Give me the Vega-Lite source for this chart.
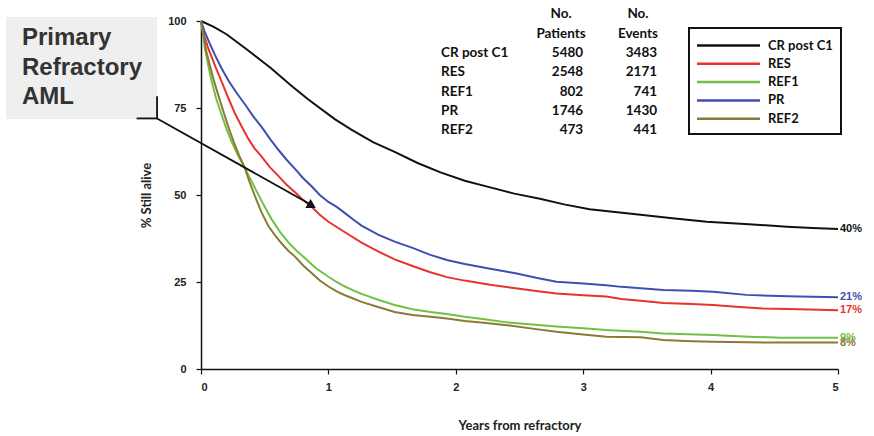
{
"$schema": "https://vega.github.io/schema/vega-lite/v6.json",
"width": 637, "height": 348,
"autosize": {"type": "none"},
"padding": {"left": 201, "top": 21, "right": 36, "bottom": 67},
"background": "white",
"config": {
 "view": {"stroke": null},
 "font": "Liberation Sans",
 "axis": {"grid": false, "domainColor": "#111", "domainWidth": 1.5, "tickColor": "#111", "tickWidth": 1.2, "tickSize": 5,
  "labelFont": "'Liberation Sans Narrow', 'Liberation Sans', sans-serif", "labelFontWeight": "bold", "labelFontSize": 11, "labelColor": "#222",
  "titleFont": "Lato", "titleFontWeight": "bold", "titleFontSize": 13, "titleColor": "#222"},
 "legend": {"strokeWidth": 2}
},
"datasets": {
 "curves": [
  {"group":"CR post C1","years":0,"pct":100},{"group":"CR post C1","years":0.1,"pct":98.3},{"group":"CR post C1","years":0.2,"pct":96.2},{"group":"CR post C1","years":0.35,"pct":92.1},{"group":"CR post C1","years":0.55,"pct":86.4},{"group":"CR post C1","years":0.7,"pct":81.7},{"group":"CR post C1","years":0.84,"pct":77.5},{"group":"CR post C1","years":1.05,"pct":71.8},{"group":"CR post C1","years":1.18,"pct":68.8},{"group":"CR post C1","years":1.35,"pct":65.2},{"group":"CR post C1","years":1.52,"pct":62.4},{"group":"CR post C1","years":1.7,"pct":59.2},{"group":"CR post C1","years":1.88,"pct":56.5},{"group":"CR post C1","years":2.07,"pct":54.1},{"group":"CR post C1","years":2.27,"pct":52.2},{"group":"CR post C1","years":2.46,"pct":50.4},{"group":"CR post C1","years":2.66,"pct":48.9},{"group":"CR post C1","years":2.85,"pct":47.3},{"group":"CR post C1","years":3.05,"pct":45.9},{"group":"CR post C1","years":3.25,"pct":45.1},{"group":"CR post C1","years":3.45,"pct":44.3},{"group":"CR post C1","years":3.7,"pct":43.3},{"group":"CR post C1","years":3.97,"pct":42.3},{"group":"CR post C1","years":4.3,"pct":41.6},{"group":"CR post C1","years":4.6,"pct":40.9},{"group":"CR post C1","years":4.8,"pct":40.5},{"group":"CR post C1","years":5.0,"pct":40.2},
  {"group":"RES","years":0,"pct":100},{"group":"RES","years":0.02,"pct":96.5},{"group":"RES","years":0.057,"pct":92.1},{"group":"RES","years":0.11,"pct":87.2},{"group":"RES","years":0.162,"pct":82.6},{"group":"RES","years":0.215,"pct":77.8},{"group":"RES","years":0.267,"pct":73.4},{"group":"RES","years":0.32,"pct":69.6},{"group":"RES","years":0.371,"pct":66.2},{"group":"RES","years":0.42,"pct":63.4},{"group":"RES","years":0.476,"pct":61.0},{"group":"RES","years":0.54,"pct":58.0},{"group":"RES","years":0.607,"pct":55.5},{"group":"RES","years":0.67,"pct":53.0},{"group":"RES","years":0.738,"pct":50.8},{"group":"RES","years":0.8,"pct":48.6},{"group":"RES","years":0.868,"pct":46.6},{"group":"RES","years":0.93,"pct":44.4},{"group":"RES","years":1.0,"pct":42.3},{"group":"RES","years":1.13,"pct":39.3},{"group":"RES","years":1.26,"pct":36.3},{"group":"RES","years":1.39,"pct":33.8},{"group":"RES","years":1.52,"pct":31.5},{"group":"RES","years":1.66,"pct":29.6},{"group":"RES","years":1.8,"pct":27.8},{"group":"RES","years":1.93,"pct":26.4},{"group":"RES","years":2.07,"pct":25.4},{"group":"RES","years":2.27,"pct":24.2},{"group":"RES","years":2.47,"pct":23.2},{"group":"RES","years":2.63,"pct":22.4},{"group":"RES","years":2.79,"pct":21.7},{"group":"RES","years":3.0,"pct":21.2},{"group":"RES","years":3.18,"pct":20.8},{"group":"RES","years":3.3,"pct":20.1},{"group":"RES","years":3.45,"pct":19.6},{"group":"RES","years":3.63,"pct":19.0},{"group":"RES","years":3.85,"pct":18.7},{"group":"RES","years":4.02,"pct":18.4},{"group":"RES","years":4.2,"pct":17.9},{"group":"RES","years":4.41,"pct":17.4},{"group":"RES","years":4.7,"pct":17.2},{"group":"RES","years":5.0,"pct":16.9},
  {"group":"REF1","years":0,"pct":100},{"group":"REF1","years":0.015,"pct":96.5},{"group":"REF1","years":0.031,"pct":92.1},{"group":"REF1","years":0.057,"pct":87.3},{"group":"REF1","years":0.084,"pct":82.6},{"group":"REF1","years":0.12,"pct":77.6},{"group":"REF1","years":0.162,"pct":73.0},{"group":"REF1","years":0.2,"pct":69.0},{"group":"REF1","years":0.241,"pct":65.3},{"group":"REF1","years":0.29,"pct":61.4},{"group":"REF1","years":0.345,"pct":57.7},{"group":"REF1","years":0.4,"pct":53.7},{"group":"REF1","years":0.45,"pct":50.1},{"group":"REF1","years":0.5,"pct":46.6},{"group":"REF1","years":0.555,"pct":43.0},{"group":"REF1","years":0.62,"pct":39.4},{"group":"REF1","years":0.686,"pct":36.4},{"group":"REF1","years":0.75,"pct":34.0},{"group":"REF1","years":0.817,"pct":31.8},{"group":"REF1","years":0.9,"pct":29.0},{"group":"REF1","years":1.0,"pct":26.5},{"group":"REF1","years":1.065,"pct":25.0},{"group":"REF1","years":1.13,"pct":23.7},{"group":"REF1","years":1.2,"pct":22.5},{"group":"REF1","years":1.26,"pct":21.6},{"group":"REF1","years":1.39,"pct":19.9},{"group":"REF1","years":1.52,"pct":18.4},{"group":"REF1","years":1.66,"pct":17.2},{"group":"REF1","years":1.8,"pct":16.4},{"group":"REF1","years":1.93,"pct":15.8},{"group":"REF1","years":2.07,"pct":15.0},{"group":"REF1","years":2.24,"pct":14.2},{"group":"REF1","years":2.4,"pct":13.4},{"group":"REF1","years":2.6,"pct":12.8},{"group":"REF1","years":2.79,"pct":12.2},{"group":"REF1","years":3.0,"pct":11.7},{"group":"REF1","years":3.18,"pct":11.2},{"group":"REF1","years":3.45,"pct":10.7},{"group":"REF1","years":3.63,"pct":10.2},{"group":"REF1","years":4.02,"pct":9.8},{"group":"REF1","years":4.3,"pct":9.3},{"group":"REF1","years":4.55,"pct":9.0},{"group":"REF1","years":5.0,"pct":9.0},
  {"group":"PR","years":0,"pct":100},{"group":"PR","years":0.03,"pct":96.8},{"group":"PR","years":0.07,"pct":93.4},{"group":"PR","years":0.11,"pct":90.2},{"group":"PR","years":0.16,"pct":86.5},{"group":"PR","years":0.215,"pct":82.9},{"group":"PR","years":0.28,"pct":79.3},{"group":"PR","years":0.346,"pct":76.0},{"group":"PR","years":0.41,"pct":72.6},{"group":"PR","years":0.477,"pct":69.5},{"group":"PR","years":0.54,"pct":66.2},{"group":"PR","years":0.607,"pct":63.0},{"group":"PR","years":0.67,"pct":60.2},{"group":"PR","years":0.738,"pct":57.5},{"group":"PR","years":0.8,"pct":54.9},{"group":"PR","years":0.868,"pct":52.5},{"group":"PR","years":0.93,"pct":50.1},{"group":"PR","years":1.0,"pct":48.0},{"group":"PR","years":1.065,"pct":46.6},{"group":"PR","years":1.13,"pct":44.8},{"group":"PR","years":1.2,"pct":42.8},{"group":"PR","years":1.26,"pct":41.2},{"group":"PR","years":1.39,"pct":38.6},{"group":"PR","years":1.52,"pct":36.6},{"group":"PR","years":1.66,"pct":34.8},{"group":"PR","years":1.8,"pct":32.8},{"group":"PR","years":1.93,"pct":31.3},{"group":"PR","years":2.07,"pct":30.2},{"group":"PR","years":2.27,"pct":28.8},{"group":"PR","years":2.47,"pct":27.5},{"group":"PR","years":2.63,"pct":26.2},{"group":"PR","years":2.79,"pct":25.1},{"group":"PR","years":3.0,"pct":24.6},{"group":"PR","years":3.18,"pct":24.1},{"group":"PR","years":3.3,"pct":23.6},{"group":"PR","years":3.45,"pct":23.2},{"group":"PR","years":3.63,"pct":22.7},{"group":"PR","years":3.85,"pct":22.5},{"group":"PR","years":4.02,"pct":22.2},{"group":"PR","years":4.28,"pct":21.3},{"group":"PR","years":4.6,"pct":20.9},{"group":"PR","years":5.0,"pct":20.6},
  {"group":"REF2","years":0,"pct":100},{"group":"REF2","years":0.02,"pct":96},{"group":"REF2","years":0.04,"pct":91.5},{"group":"REF2","years":0.07,"pct":87.2},{"group":"REF2","years":0.1,"pct":83.0},{"group":"REF2","years":0.14,"pct":78.2},{"group":"REF2","years":0.18,"pct":73.5},{"group":"REF2","years":0.22,"pct":69.0},{"group":"REF2","years":0.26,"pct":65.0},{"group":"REF2","years":0.3,"pct":61.3},{"group":"REF2","years":0.345,"pct":57.7},{"group":"REF2","years":0.38,"pct":53.8},{"group":"REF2","years":0.42,"pct":50.0},{"group":"REF2","years":0.475,"pct":45.0},{"group":"REF2","years":0.53,"pct":41.0},{"group":"REF2","years":0.58,"pct":38.5},{"group":"REF2","years":0.63,"pct":36.2},{"group":"REF2","years":0.685,"pct":34.0},{"group":"REF2","years":0.738,"pct":32.3},{"group":"REF2","years":0.8,"pct":29.8},{"group":"REF2","years":0.868,"pct":27.6},{"group":"REF2","years":0.93,"pct":25.5},{"group":"REF2","years":1.0,"pct":23.7},{"group":"REF2","years":1.065,"pct":22.3},{"group":"REF2","years":1.13,"pct":21.2},{"group":"REF2","years":1.2,"pct":20.2},{"group":"REF2","years":1.26,"pct":19.3},{"group":"REF2","years":1.39,"pct":17.8},{"group":"REF2","years":1.52,"pct":16.4},{"group":"REF2","years":1.66,"pct":15.5},{"group":"REF2","years":1.8,"pct":15.0},{"group":"REF2","years":1.93,"pct":14.5},{"group":"REF2","years":2.07,"pct":13.8},{"group":"REF2","years":2.24,"pct":13.2},{"group":"REF2","years":2.4,"pct":12.6},{"group":"REF2","years":2.6,"pct":11.6},{"group":"REF2","years":2.79,"pct":10.7},{"group":"REF2","years":3.0,"pct":9.9},{"group":"REF2","years":3.18,"pct":9.3},{"group":"REF2","years":3.45,"pct":9.1},{"group":"REF2","years":3.63,"pct":8.3},{"group":"REF2","years":3.85,"pct":8.0},{"group":"REF2","years":4.02,"pct":7.8},{"group":"REF2","years":4.5,"pct":7.6},{"group":"REF2","years":5.0,"pct":7.6}
 ],
 "endLabels": [
  {"group":"CR post C1","years":5,"pct":40.2,"label":"40%"},
  {"group":"PR","years":5,"pct":20.6,"label":"21%"},
  {"group":"RES","years":5,"pct":16.9,"label":"17%"},
  {"group":"REF1","years":5,"pct":9.0,"label":"9%"},
  {"group":"REF2","years":5,"pct":7.6,"label":"8%"}
 ],
 "table": [
  {"group":"CR post C1","patients":5480,"events":3483},
  {"group":"RES","patients":2548,"events":2171},
  {"group":"REF1","patients":802,"events":741},
  {"group":"PR","patients":1746,"events":1430},
  {"group":"REF2","patients":473,"events":441}
 ]
},
"layer": [
 {"layer": [
  {"data": {"values": [{}]},
   "mark": {"type": "rect", "fill": "#efefef"},
   "encoding": {"x": {"datum": -1.531, "type": "quantitative"}, "x2": {"datum": -0.345},
                "y": {"datum": 101.15, "type": "quantitative"}, "y2": {"datum": 71.84}}},
  {"data": {"values": [{}]},
   "mark": {"type": "text", "text": ["Primary", "Refractory", "AML"], "align": "left", "baseline": "alphabetic", "fontSize": 24, "fontWeight": "bold", "font": "Liberation Sans", "lineHeight": 29.5, "color": "#333"},
   "encoding": {"x": {"datum": -1.405, "type": "quantitative"}, "y": {"datum": 93.1, "type": "quantitative"}}},
  {"data": {"values": [{}]},
   "mark": {"type": "rule", "color": "#111", "strokeWidth": 1.8},
   "encoding": {"x": {"datum": -0.345, "type": "quantitative"}, "x2": {"datum": -0.345},
                "y": {"datum": 78.4, "type": "quantitative"}, "y2": {"datum": 72.0}}},
  {"data": {"values": [{}]},
   "mark": {"type": "rule", "color": "#111", "strokeWidth": 1.8},
   "encoding": {"x": {"datum": -0.505, "type": "quantitative"}, "x2": {"datum": -0.345},
                "y": {"datum": 72.0, "type": "quantitative"}, "y2": {"datum": 72.0}}},
  {"data": {"name": "curves"},
   "mark": {"type": "line", "strokeWidth": 2},
   "encoding": {
    "x": {"field": "years", "type": "quantitative", "scale": {"domain": [0, 5], "nice": false, "zero": false},
          "axis": {"values": [0, 1, 2, 3, 4, 5], "format": "d", "title": "Years from refractory", "labelPadding": 7, "titlePadding": 27}},
    "y": {"field": "pct", "type": "quantitative", "scale": {"domain": [0, 100], "nice": false},
          "axis": {"values": [0, 25, 50, 75, 100], "title": "% Still alive", "labelPadding": 10, "titlePadding": 14}},
    "color": {"field": "group", "type": "nominal",
     "scale": {"domain": ["CR post C1", "RES", "REF1", "PR", "REF2"], "range": ["#111111", "#e8322d", "#72c043", "#3e4fb0", "#8a7a35"]},
     "legend": {"title": null, "orient": "none", "legendX": 488, "legendY": 7, "padding": 8, "symbolType": "M-3.94,0H3.94", "symbolSize": 256, "symbolStrokeWidth": 2.5, "symbolOffset": 22, "labelOffset": 30, "rowPadding": 1.3, "strokeColor": "#111", "labelFont": "Lato", "labelFontSize": 13, "labelFontWeight": "bold", "labelColor": "#111"}}
   }},
  {"data": {"values": [{}]},
   "mark": {"type": "rule", "color": "#111", "strokeWidth": 1.8},
   "encoding": {"x": {"datum": -0.345, "type": "quantitative"}, "x2": {"datum": 0.85},
                "y": {"datum": 72.0, "type": "quantitative"}, "y2": {"datum": 47.5}}},
  {"data": {"values": [{}]},
   "mark": {"type": "point", "shape": "triangle", "filled": true, "color": "#111", "opacity": 1, "size": 110, "angle": 120},
   "encoding": {"x": {"datum": 0.86, "type": "quantitative"}, "y": {"datum": 47.1, "type": "quantitative"}}},
  {"data": {"name": "endLabels"},
   "mark": {"type": "text", "align": "left", "baseline": "middle", "dx": 2, "font": "'Liberation Sans Narrow', 'Liberation Sans', sans-serif", "fontWeight": "bold", "fontSize": 11},
   "encoding": {"x": {"field": "years", "type": "quantitative"}, "y": {"field": "pct", "type": "quantitative"},
                "text": {"field": "label"}, "color": {"field": "group", "type": "nominal"}}},
  {"data": {"values": [{}]},
   "mark": {"type": "text", "text": ["No.", "Patients"], "align": "center", "baseline": "alphabetic", "lineHeight": 20, "font": "Lato", "fontWeight": "bold", "fontSize": 13.5, "color": "#111"},
   "encoding": {"x": {"datum": 2.826, "type": "quantitative"}, "y": {"datum": 100.9, "type": "quantitative"}}},
  {"data": {"values": [{}]},
   "mark": {"type": "text", "text": ["No.", "Events"], "align": "center", "baseline": "alphabetic", "lineHeight": 20, "font": "Lato", "fontWeight": "bold", "fontSize": 13.5, "color": "#111"},
   "encoding": {"x": {"datum": 3.43, "type": "quantitative"}, "y": {"datum": 100.9, "type": "quantitative"}}}
 ]},
 {"data": {"name": "table"},
  "encoding": {"y": {"field": "group", "type": "nominal", "sort": null, "scale": {"domain": ["CR post C1", "RES", "REF1", "PR", "REF2"], "range": [32, 109], "padding": 0}, "axis": null}},
  "layer": [
   {"mark": {"type": "text", "align": "left", "baseline": "middle", "font": "Lato", "fontWeight": "bold", "fontSize": 13.5, "color": "#111"},
    "encoding": {"x": {"datum": 1.884, "type": "quantitative"}, "text": {"field": "group", "type": "nominal"}}},
   {"mark": {"type": "text", "align": "right", "baseline": "middle", "font": "Lato", "fontWeight": "bold", "fontSize": 13.5, "color": "#111"},
    "encoding": {"x": {"datum": 3.0, "type": "quantitative"}, "text": {"field": "patients", "type": "quantitative", "format": "d"}}},
   {"mark": {"type": "text", "align": "right", "baseline": "middle", "font": "Lato", "fontWeight": "bold", "fontSize": 13.5, "color": "#111"},
    "encoding": {"x": {"datum": 3.58, "type": "quantitative"}, "text": {"field": "events", "type": "quantitative", "format": "d"}}}
  ]}
],
"resolve": {"scale": {"y": "independent"}}
}
